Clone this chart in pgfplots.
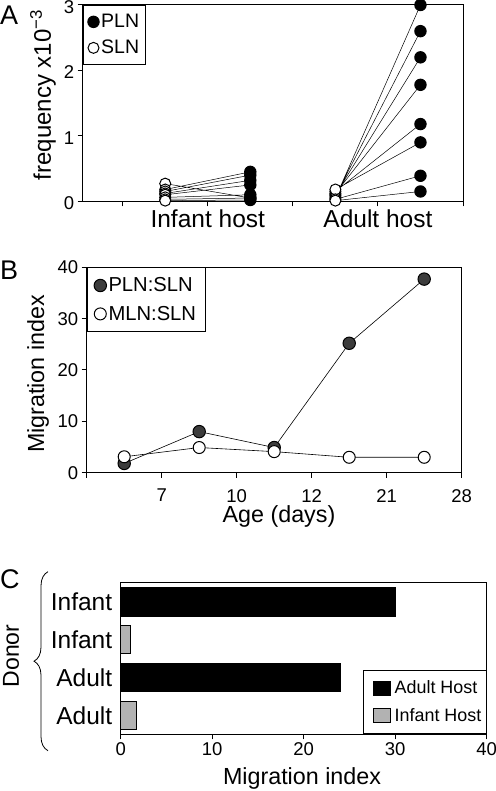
\documentclass[border=0pt]{standalone}
\usepackage{pgfplots}
\pgfplotsset{compat=1.18}
\usepackage{fontspec}
\setmainfont{Liberation Sans}
\usetikzlibrary{decorations.pathreplacing}
\definecolor{barGray}{RGB}{178,178,178}
\definecolor{darkPt}{RGB}{60,60,60}
\pgfplotsset{
  panel/.style={
    scale only axis, clip=false,
    axis line style={line width=1pt},
    tick style={line width=1pt,black},
    major tick length=5pt, tick align=outside,
    xtick pos=bottom, ytick pos=left,
    /pgf/number format/assume math mode=true,
    tick label style={font=\fontsize{18.5}{20}\selectfont},
    legend cell align=left,
  },
}
\begin{document}
\begin{tikzpicture}[x=1pt,y=1pt]
\useasboundingbox (0pt,0pt) rectangle (495pt,791pt);

% ---------------- Panel A ----------------
\begin{axis}[panel,
  at={(82.7pt,589.7pt)}, anchor=south west, width=380.3pt, height=196.3pt,
  xmin=0.53, xmax=5, ymin=0, ymax=3,
  xtick={1,2,3,4,5}, xticklabels={,Infant host,,Adult host,},
  ytick={0,1,2,3},
  yticklabel style={yshift=-2pt},
  xticklabel style={font=\fontsize{24.5}{26}\selectfont},
  legend style={at={(0,1)}, anchor=north west, draw=black, line width=0.8pt,
    font=\fontsize{19.5}{21}\selectfont, inner xsep=4.7pt, inner ysep=7pt, row sep=7pt,
    nodes={inner sep=2pt}},
]
\addplot[black, line width=0.5pt, forget plot, unbounded coords=jump] coordinates {
 (1.5,0.27) (2.5,0.05) (2,nan)
 (1.5,0.18) (2.5,0.45) (2,nan)
 (1.5,0.15) (2.5,0.40) (2,nan)
 (1.5,0.12) (2.5,0.32) (2,nan)
 (1.5,0.10) (2.5,0.25) (2,nan)
 (1.5,0.06) (2.5,0.10) (2,nan)
 (1.5,0.03) (2.5,0.05) (2,nan)
 (1.5,0.01) (2.5,0.02) (2,nan)
 (3.5,0.05) (4.5,3.00) (4,nan)
 (3.5,0.08) (4.5,2.60) (4,nan)
 (3.5,0.10) (4.5,2.20) (4,nan)
 (3.5,0.12) (4.5,1.78) (4,nan)
 (3.5,0.15) (4.5,1.18) (4,nan)
 (3.5,0.18) (4.5,0.90) (4,nan)
 (3.5,0.03) (4.5,0.39) (4,nan)
 (3.5,0.01) (4.5,0.15)
};
\addplot[only marks, mark=*, mark size=5.7pt, mark options={fill=black, draw=black, line width=1pt}] coordinates {
 (2.5,0.05) (2.5,0.45) (2.5,0.40) (2.5,0.32) (2.5,0.25) (2.5,0.10) (2.5,0.05) (2.5,0.02)
 (4.5,3.00) (4.5,2.60) (4.5,2.20) (4.5,1.78) (4.5,1.18) (4.5,0.90) (4.5,0.39) (4.5,0.15)
};
\addlegendentry{PLN}
\addplot[only marks, mark=*, mark size=5.5pt, mark options={fill=white, draw=black, line width=1pt}] coordinates {
 (1.5,0.27) (1.5,0.18) (1.5,0.15) (1.5,0.12) (1.5,0.10) (1.5,0.06) (1.5,0.03) (1.5,0.01)
 (3.5,0.05) (3.5,0.08) (3.5,0.10) (3.5,0.12) (3.5,0.15) (3.5,0.18) (3.5,0.03) (3.5,0.01)
};
\addlegendentry{SLN}
\end{axis}

% ---------------- Panel B ----------------
\begin{axis}[panel,
  at={(86.7pt,318.3pt)}, anchor=south west, width=375pt, height=205.4pt,
  xmin=0, xmax=5, ymin=0, ymax=40,
  xtick={0,1,2,3,4,5}, xticklabels={,7,10,12,21,28},
  ytick={0,10,20,30,40},
  xticklabel style={yshift=-8pt},
  legend style={at={(0,1)}, anchor=north west, draw=black, line width=0.8pt,
    font=\fontsize{20.2}{22}\selectfont, inner xsep=7pt, inner ysep=8pt, row sep=8.8pt,
    nodes={inner sep=2pt}},
]
\addplot[black, line width=0.6pt, forget plot] coordinates {
 (0.5,1.8) (1.5,8.0) (2.5,4.9) (3.5,25.2) (4.5,37.7)
};
\addplot[only marks, mark=*, mark size=6.2pt, mark options={fill=darkPt, draw=black, line width=1pt}] coordinates {
 (0.5,1.8) (1.5,8.0) (2.5,4.9) (3.5,25.2) (4.5,37.7)
};
\addlegendentry{PLN:SLN}
\addplot[black, line width=0.6pt, forget plot] coordinates {
 (0.5,3.1) (1.5,4.9) (2.5,4.1) (3.5,3.0) (4.5,3.0)
};
\addplot[only marks, mark=*, mark size=6pt, mark options={fill=white, draw=black, line width=1pt}] coordinates {
 (0.5,3.1) (1.5,4.9) (2.5,4.1) (3.5,3.0) (4.5,3.0)
};
\addlegendentry{MLN:SLN}
\end{axis}

% ---------------- Panel C ----------------
\begin{axis}[panel,
  at={(120.7pt,56.7pt)}, anchor=south west, width=366pt, height=151.6pt,
  xmin=0, xmax=40, ymin=0.5, ymax=4.5,
  xtick={0,10,20,30,40},
  ytick={1,2,3,4}, yticklabels={Adult,Adult,Infant,Infant},
  ytick style={draw=none},
  yticklabel style={font=\fontsize{24.5}{26}\selectfont},
  xbar, bar width=0.75, bar shift=0pt,
  legend style={at={(1,0)}, anchor=south east, draw=black, line width=0.8pt,
    font=\fontsize{17.9}{19}\selectfont, inner xsep=4pt, inner ysep=10pt, row sep=11pt,
    nodes={inner sep=1pt}},
  legend image code/.code={\path[draw=none,fill=none] (-6pt,0pt) -- (20pt,0pt); \draw[#1] (0pt,-7pt) rectangle (17pt,7pt);},
]
\addplot[fill=black, draw=black, line width=0.6pt] coordinates {(30,4) (24,2)};
\addlegendentry{Adult Host}
\addplot[fill=barGray, draw=black, line width=0.6pt] coordinates {(1.0,3) (1.75,1)};
\addlegendentry{Infant Host}
\end{axis}

% ---------------- Labels ----------------
\node[rotate=90, font=\fontsize{24}{26}\selectfont, inner sep=0pt] at (43pt,696pt) {frequency x10\textsuperscript{−3}};
\node[rotate=90, font=\fontsize{23.3}{25}\selectfont, inner sep=0pt] at (38pt,417pt) {Migration index};
\node[anchor=base, font=\fontsize{23.3}{25}\selectfont, inner sep=0pt] at (279pt,268pt) {Age (days)};
\node[anchor=base, font=\fontsize{23.3}{25}\selectfont, inner sep=0pt] at (302pt,6pt) {Migration index};
\node[rotate=90, font=\fontsize{23}{25}\selectfont, inner sep=0pt] at (11pt,135pt) {Donor};
\draw[decorate, decoration={brace, amplitude=14pt}, line width=0.8pt] (48pt,40.3pt) -- (48pt,219.3pt);

\node[anchor=base west, font=\fontsize{27}{29}\selectfont, inner sep=0pt] at (0pt,766pt) {A};
\node[anchor=base west, font=\fontsize{27}{29}\selectfont, inner sep=0pt] at (0pt,511pt) {B};
\node[anchor=base west, font=\fontsize{27}{29}\selectfont, inner sep=0pt] at (0pt,202pt) {C};
\end{tikzpicture}
\end{document}
